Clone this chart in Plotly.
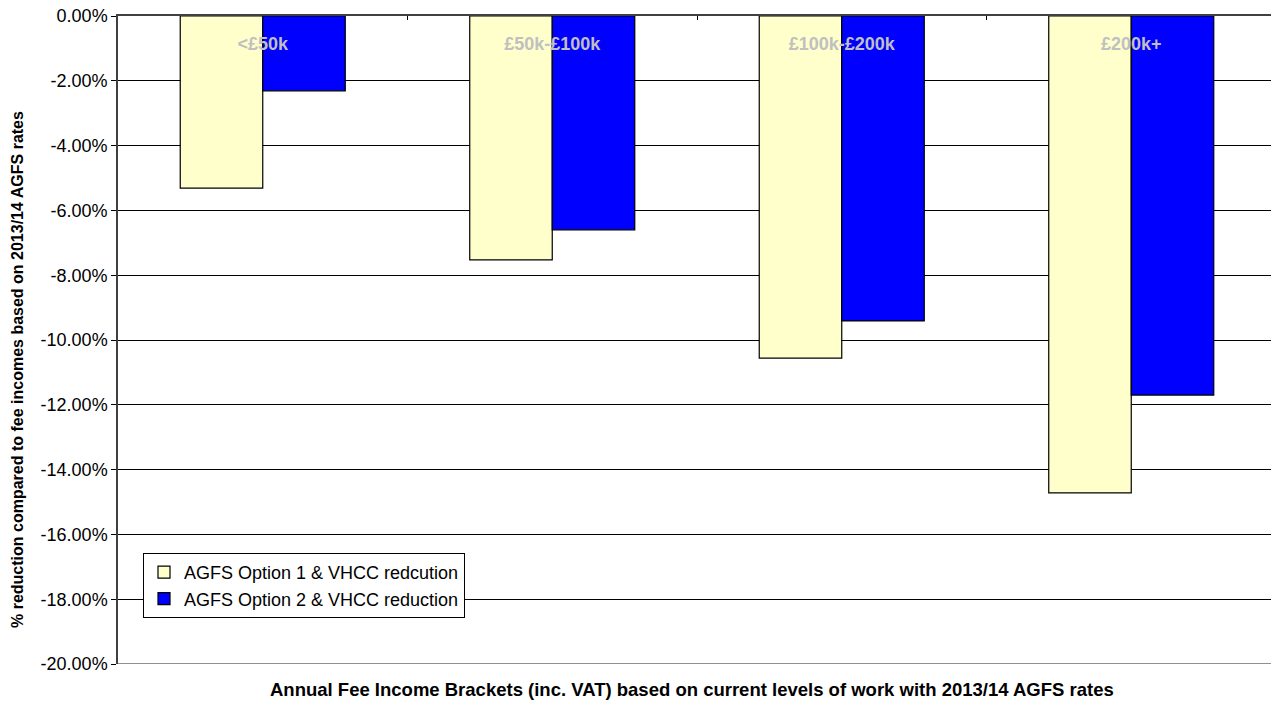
import plotly.graph_objects as go

categories = ["<£50k", "£50k-£100k", "£100k-£200k", "£200k+"]
option1 = [-5.31, -7.53, -10.56, -14.72]
option2 = [-2.31, -6.60, -9.41, -11.70]
series_names = ["AGFS Option 1 & VHCC redcution", "AGFS Option 2 & VHCC reduction"]
y_ticks = [0, -2, -4, -6, -8, -10, -12, -14, -16, -18, -20]

FONT = "Liberation Sans, Arial, sans-serif"

fig = go.Figure()
fig.add_trace(go.Bar(x=categories, y=option1, name=series_names[0],
                     marker=dict(color="#FFFFCC", line=dict(color="black", width=1.2))))
fig.add_trace(go.Bar(x=categories, y=option2, name=series_names[1],
                     marker=dict(color="#0000FF", line=dict(color="black", width=1.2))))

W, H = 1271, 702
L, T, B, R = 118, 16, 38, 0
pw = W - L - R
ph = H - T - B
xr = [-0.5, -0.5 + pw / 289.5]

fig.update_layout(
    width=W, height=H,
    margin=dict(l=L, r=R, t=T, b=B, autoexpand=False),
    paper_bgcolor="white", plot_bgcolor="white",
    barmode="group", bargap=0.43, bargroupgap=0,
    font=dict(family=FONT, color="black"),
    showlegend=True,
    legend=dict(x=(143 - L) / pw, y=(664 - 553) / ph, xanchor="left", yanchor="top",
                bgcolor="white", bordercolor="black", borderwidth=1,
                font=dict(size=18, family=FONT), tracegroupgap=0, itemwidth=30),
    xaxis=dict(
        type="category", range=xr, categoryorder="array", categoryarray=categories,
        side="top", showticklabels=False,
        tickson="boundaries", ticks="inside", ticklen=4, tickcolor="black",
        showline=True, linecolor="#404040", linewidth=2,
        showgrid=False, fixedrange=True,
    ),
    xaxis2=dict(
        type="category", matches="x", overlaying="x", anchor="free",
        position=(664 - 31) / ph, side="bottom",
        categoryorder="array", categoryarray=categories,
        showline=False, ticks="", showgrid=False, zeroline=False,
        tickfont=dict(family=FONT, size=18, color="#C0C0C0", weight="bold"),
        fixedrange=True,
    ),
    yaxis=dict(
        range=[-20, 0], tickvals=y_ticks, ticktext=[f"{v:.2f}%" for v in y_ticks],
        ticks="outside", ticklen=5, tickcolor="black",
        tickfont=dict(size=18, family=FONT, color="black"),
        showline=True, linecolor="#404040", linewidth=1.5,
        showgrid=True, gridcolor="black", gridwidth=1,
        zeroline=False, fixedrange=True,
    ),
    shapes=[dict(type="line", xref="paper", yref="y", x0=0, x1=1, y0=-20, y1=-20,
                 line=dict(color="#909090", width=2), layer="above")],
    annotations=[
        dict(text="<b>Annual Fee Income Brackets (inc. VAT) based on current levels of work with 2013/14 AGFS rates</b>",
             xref="paper", yref="paper", x=(692 - L) / pw, y=(664 - 689) / ph,
             showarrow=False, font=dict(size=18.5, family=FONT, color="black"),
             xanchor="center", yanchor="middle"),
        dict(text="<b>% reduction compared to fee incomes based on 2013/14 AGFS rates</b>",
             xref="paper", yref="paper", x=(17 - L) / pw, y=(664 - 370) / ph,
             showarrow=False, textangle=-90, font=dict(size=16, family=FONT, color="black"),
             xanchor="center", yanchor="middle"),
    ],
)
# invisible helper trace so the label axis carries the categories
fig.add_trace(go.Bar(x=categories, y=[None] * len(categories), xaxis="x2", yaxis="y",
                     showlegend=False, hoverinfo="skip", marker=dict(color="rgba(0,0,0,0)")))

fig.write_html("out.html")
